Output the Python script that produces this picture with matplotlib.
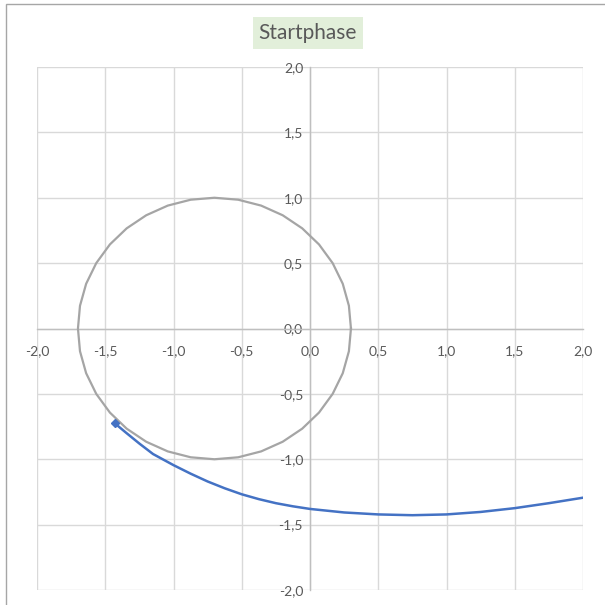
import matplotlib.pyplot as plt
from matplotlib.patches import Rectangle

# grey circle
circle_x = [0.30, 0.285, 0.240, 0.166, 0.066, -0.057, -0.20, -0.358, -0.526, -0.70,
            -0.874, -1.042, -1.20, -1.343, -1.466, -1.566, -1.640, -1.685, -1.70,
            -1.685, -1.640, -1.566, -1.466, -1.343, -1.20, -1.042, -0.874, -0.70,
            -0.526, -0.358, -0.20, -0.057, 0.066, 0.166, 0.240, 0.285, 0.30]
circle_y = [0.00, 0.174, 0.342, 0.50, 0.643, 0.766, 0.866, 0.940, 0.985, 1.00,
            0.985, 0.940, 0.866, 0.766, 0.643, 0.50, 0.342, 0.174, 0.00,
            -0.174, -0.342, -0.50, -0.643, -0.766, -0.866, -0.940, -0.985, -1.00,
            -0.985, -0.940, -0.866, -0.766, -0.643, -0.50, -0.342, -0.174, 0.00]

# blue trajectory
path_x = [-1.43, -1.35, -1.25, -1.15, -1.0, -0.875, -0.75, -0.625, -0.5, -0.375,
          -0.25, -0.125, 0.0, 0.25, 0.5, 0.75, 1.0, 1.25, 1.5, 1.75, 2.0]
path_y = [-0.725, -0.795, -0.88, -0.96, -1.045, -1.11, -1.17, -1.222, -1.268, -1.305,
          -1.336, -1.36, -1.38, -1.407, -1.422, -1.428, -1.422, -1.403, -1.374, -1.336, -1.294]

ticks = [-2.0, -1.5, -1.0, -0.5, 0.0, 0.5, 1.0, 1.5, 2.0]
tick_labels = ['-2,0', '-1,5', '-1,0', '-0,5', '0,0', '0,5', '1,0', '1,5', '2,0']

plt.rcParams['font.family'] = ['Lato', 'DejaVu Sans']
txt = '#595959'

fig = plt.figure(figsize=(6.05, 6.05), dpi=100)
fig.patches.append(Rectangle((6/605, -0.05), 1.2, 1.05 - 4/605, transform=fig.transFigure,
                             fill=False, edgecolor='#A6A6A6', lw=1))
ax = fig.add_axes([37/605, 15/605, 546/605, 523/605])

ax.plot(circle_x, circle_y, color='#A5A5A5', lw=1.6, zorder=3)
ax.plot(path_x, path_y, color='#4472C4', lw=1.8, zorder=4)
ax.plot(path_x[0], path_y[0], marker='D', ms=4, color='#4472C4', zorder=5)

ax.set_xlim(-2, 2)
ax.set_ylim(-2, 2)
ax.set_xticks(ticks)
ax.set_xticklabels(tick_labels)
ax.set_yticks(ticks)
ax.set_yticklabels(tick_labels)
ax.grid(True, color='#D9D9D9', lw=1)
ax.set_axisbelow(True)

for s in ['top', 'right']:
    ax.spines[s].set_visible(False)
ax.spines['left'].set_position(('data', 0))
ax.spines['bottom'].set_position(('data', 0))
for s in ['left', 'bottom']:
    ax.spines[s].set_color('#BFBFBF')
    ax.spines[s].set_linewidth(1)
ax.tick_params(length=0, labelsize=10, labelcolor=txt)
ax.tick_params(axis='x', pad=12)
ax.tick_params(axis='y', pad=5)

fig.text(0.509, 1 - 33/605, 'Startphase', ha='center', va='center', fontsize=15, color=txt,
         bbox=dict(boxstyle='square,pad=0.3', facecolor='#E2EFDA', edgecolor='none'))

fig.savefig('out.png', dpi=100)
